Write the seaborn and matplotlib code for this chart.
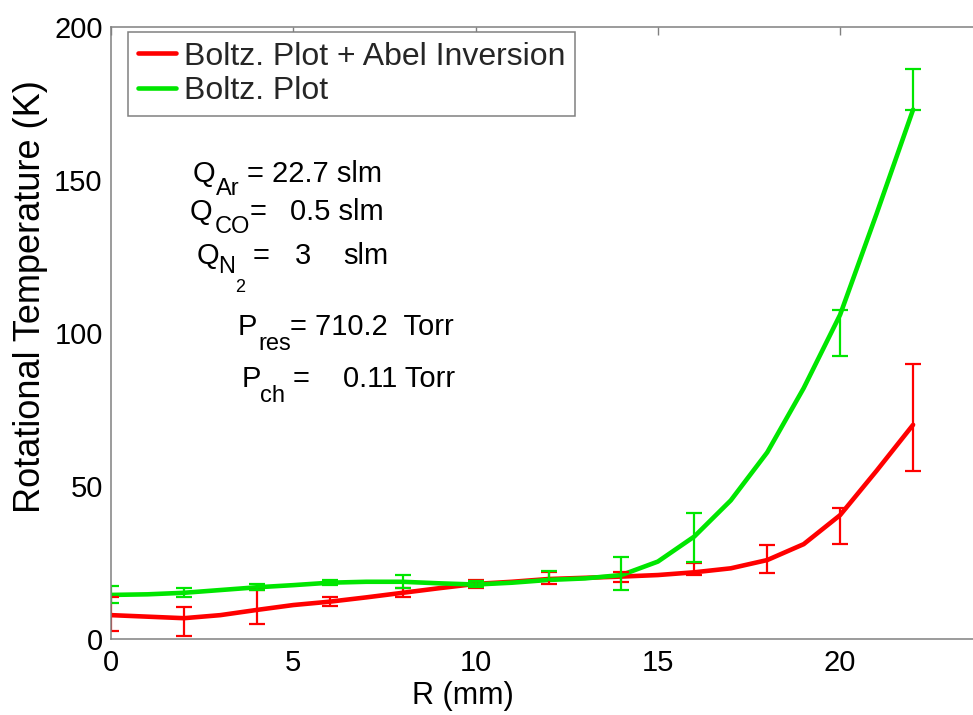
import numpy as np
import pandas as pd
import seaborn as sns
import matplotlib.pyplot as plt

# measured points (error bar centres and half-widths)
r_abel = [0, 2, 4, 6, 8, 10, 12, 14, 16, 18, 20, 22]
T_abel = [8.2, 5.8, 10.5, 12.3, 15.2, 18.0, 20.0, 20.2, 22.8, 26.2, 37.0, 72.4]
err_abel = [5.5, 4.7, 5.5, 1.5, 1.5, 1.3, 1.9, 1.7, 2.0, 4.6, 5.9, 17.5]

r_boltz = [0, 2, 4, 6, 8, 10, 12, 14, 16, 20, 22]
T_boltz = [14.5, 15.2, 17.0, 18.4, 18.8, 18.0, 20.8, 21.4, 33.2, 100.0, 179.6]
err_boltz = [2.7, 1.5, 1.0, 0.9, 2.2, 1.0, 1.5, 5.4, 8.0, 7.5, 6.7]

r_fit = list(range(23))
fit_abel = [7.8, 7.3, 6.8, 7.8, 9.5, 11.1, 12.2, 13.6, 15.1, 16.6, 18.0, 18.7,
            19.6, 20.0, 20.4, 20.9, 21.8, 23.1, 25.8, 31.0, 40.5, 55.0, 70.0]
fit_boltz = [14.4, 14.6, 15.1, 16.0, 16.9, 17.6, 18.4, 18.7, 18.7, 18.2, 17.8, 18.4,
             19.3, 19.8, 20.9, 25.3, 33.5, 45.3, 61.0, 82.0, 106.0, 139.0, 173.0]

labels = ['Boltz. Plot + Abel Inversion', 'Boltz. Plot']
red = '#ff0000'
green = '#00e600'

sns.set_theme(style='white')
plt.rcParams['font.family'] = ['Liberation Sans', 'DejaVu Sans']

fig = plt.figure(figsize=(9.73, 7.15), dpi=100)
ax = fig.add_axes([111 / 973, 76 / 715, 875 / 973, 612 / 715])

df_fit = pd.DataFrame({'R': r_fit, 'abel': fit_abel, 'boltz': fit_boltz})
sns.lineplot(data=df_fit, x='R', y='abel', color=red, lw=3.3, ax=ax, label=labels[0])
sns.lineplot(data=df_fit, x='R', y='boltz', color=green, lw=3.3, ax=ax, label=labels[1])
for ln in ax.lines:
    ln.set_solid_joinstyle('round')

ax.errorbar(r_abel, T_abel, yerr=err_abel, fmt='none', ecolor=red,
            elinewidth=1.6, capsize=5.5, capthick=1.6)
ax.errorbar(r_boltz, T_boltz, yerr=err_boltz, fmt='none', ecolor=green,
            elinewidth=1.6, capsize=5.5, capthick=1.6)

ax.set_xlim(0, 24)
ax.set_ylim(0, 200)
ax.set_xticks([0, 5, 10, 15, 20])
ax.set_yticks([0, 50, 100, 150, 200])
ax.tick_params(direction='in', length=6, width=1, color='#808080',
               labelsize=21, labelcolor='black', top=True, right=True)
ax.tick_params(axis='x', pad=7)
ax.tick_params(axis='y', pad=6)
for s in ax.spines.values():
    s.set_color('#808080')
    s.set_linewidth(1.1)

ax.set_xlabel('R (mm)', fontsize=22, color='black')
ax.set_ylabel('Rotational Temperature (K)', fontsize=26, color='black')
ax.xaxis.set_label_coords(0.402, -0.069)
ax.yaxis.set_label_coords(-0.072, 0.56)


# annotation block, placed in figure pixels (top-left origin) like the original
def put(px, py, s, size=21):
    fig.text(px / 973, 1 - py / 715, s, fontsize=size, color='black',
             ha='left', va='baseline')


put(193, 182, 'Q'); put(216, 195, 'Ar', 17); put(247, 182, '= 22.7 slm')
put(190, 220, 'Q'); put(215, 233, 'CO', 17); put(250, 220, '='); put(290, 220, '0.5 slm')
put(197, 264, 'Q'); put(218, 273, 'N', 17); put(235, 292, '2', 13)
put(253, 264, '='); put(295, 264, '3'); put(343, 264, 'slm')
put(238, 335, 'P'); put(258, 350, 'res', 17); put(290, 335, '= 710.2  Torr')
put(242, 387, 'P'); put(260, 402, 'ch', 17); put(293, 387, '='); put(343, 387, '0.11 Torr')

leg = ax.legend(loc='upper left', bbox_to_anchor=(17 / 875, 1 - 5 / 612),
                borderaxespad=0, fontsize=23, frameon=True, fancybox=False,
                handlelength=1.2, handletextpad=0.25, labelspacing=0.15,
                borderpad=0.3)
leg.get_frame().set_edgecolor('#808080')
leg.get_frame().set_linewidth(1.1)
leg.get_frame().set_alpha(1)

fig.savefig('out.png', dpi=100)
